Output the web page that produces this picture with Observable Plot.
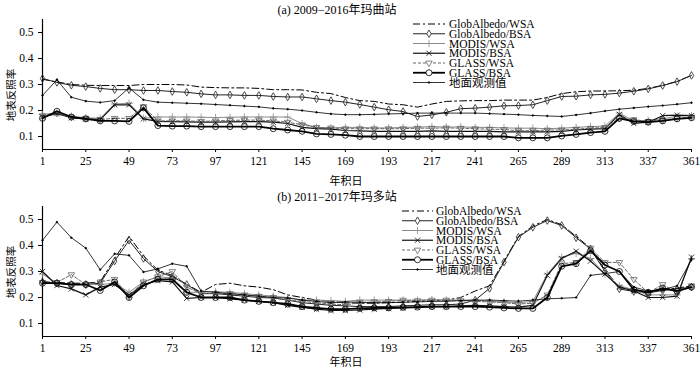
<!DOCTYPE html>
<html><head><meta charset="utf-8">
<script src="https://cdn.jsdelivr.net/npm/d3@7"></script>
<script src="https://cdn.jsdelivr.net/npm/@observablehq/plot@0.6"></script>
<style>
body{margin:0;background:#fff;}
#chart{width:700px;}
svg{display:block;}
svg text{font-family:"Liberation Serif","Times New Roman","Noto Sans CJK SC",serif;}
</style></head><body><div id="chart"></div>
<script>
const days = [1,9,17,25,33,41,49,57,65,73,81,89,97,105,113,121,129,137,145,153,161,169,177,185,193,201,209,217,225,233,241,249,257,265,273,281,289,297,305,313,321,329,337,345,353,361];
const xTicks = [1,25,49,73,97,121,145,169,193,217,241,265,289,313,337,361];
const yTicks = [0.1,0.2,0.3,0.4,0.5];
const seriesNames = ["GlobAlbedo/WSA","GlobAlbedo/BSA","MODIS/WSA","MODIS/BSA","GLASS/WSA","GLASS/BSA","地面观测值"];
const titleA = "(a) 2009−2016年玛曲站";
const titleB = "(b) 2011−2017年玛多站";
const yLabel = "地表反照率";
const xLabel = "年积日";

// Panel (a) 玛曲站
const a_globWSA = [0.320,0.310,0.300,0.297,0.296,0.296,0.296,0.300,0.300,0.300, 0.298,0.290,0.288,0.287,0.287,0.285,0.280,0.280,0.279,0.270, 0.265,0.250,0.238,0.235,0.225,0.222,0.213,0.225,0.235,0.237, 0.238,0.238,0.240,0.240,0.240,0.250,0.265,0.272,0.275,0.275, 0.276,0.278,0.285,0.297,0.312,0.335];
const a_globBSA = [0.323,0.308,0.297,0.292,0.285,0.280,0.280,0.277,0.277,0.273, 0.270,0.264,0.260,0.260,0.258,0.258,0.254,0.252,0.252,0.245, 0.238,0.232,0.223,0.213,0.203,0.196,0.177,0.183,0.193,0.207, 0.209,0.213,0.218,0.219,0.222,0.238,0.254,0.255,0.260,0.262, 0.267,0.274,0.283,0.296,0.311,0.335];
const a_modisWSA = [0.185,0.190,0.178,0.172,0.170,0.225,0.228,0.170,0.175,0.175, 0.175,0.174,0.173,0.174,0.175,0.175,0.175,0.175,0.150,0.135, 0.133,0.135,0.135,0.133,0.133,0.135,0.136,0.138,0.136,0.137, 0.135,0.135,0.133,0.132,0.132,0.130,0.132,0.135,0.138,0.140, 0.190,0.160,0.162,0.168,0.178,0.180];
const a_modisBSA = [0.175,0.188,0.172,0.168,0.165,0.222,0.222,0.168,0.158,0.157, 0.156,0.155,0.155,0.156,0.157,0.157,0.155,0.150,0.135,0.130, 0.128,0.123,0.122,0.120,0.120,0.120,0.120,0.122,0.120,0.120, 0.120,0.120,0.118,0.118,0.118,0.118,0.120,0.125,0.128,0.130, 0.185,0.150,0.155,0.180,0.182,0.180];
const a_glassWSA = [0.180,0.190,0.175,0.170,0.165,0.170,0.170,0.215,0.160,0.160, 0.160,0.158,0.160,0.162,0.163,0.163,0.160,0.155,0.145,0.135, 0.133,0.130,0.130,0.130,0.130,0.130,0.132,0.132,0.133,0.132, 0.130,0.128,0.127,0.122,0.122,0.125,0.125,0.128,0.132,0.135, 0.170,0.165,0.158,0.163,0.170,0.175];
const a_glassBSA = [0.170,0.197,0.175,0.168,0.160,0.160,0.158,0.210,0.142,0.140, 0.140,0.138,0.138,0.138,0.138,0.138,0.130,0.125,0.120,0.110, 0.108,0.105,0.100,0.100,0.100,0.100,0.100,0.100,0.100,0.100, 0.100,0.100,0.100,0.095,0.095,0.095,0.102,0.108,0.115,0.120, 0.170,0.158,0.155,0.160,0.168,0.172];
const a_ground = [0.258,0.318,0.251,0.236,0.231,0.238,0.287,0.241,0.232,0.230, 0.228,0.226,0.223,0.220,0.217,0.214,0.208,0.205,0.200,0.193, 0.187,0.184,0.184,0.185,0.187,0.188,0.190,0.190,0.190,0.190, 0.190,0.188,0.186,0.184,0.181,0.179,0.177,0.183,0.190,0.198, 0.205,0.210,0.215,0.219,0.224,0.230];

// Panel (b) 玛多站
const b_globWSA = [0.260,0.258,0.255,0.255,0.260,0.350,0.435,0.360,0.305,0.285, 0.250,0.220,0.250,0.255,0.245,0.240,0.230,0.210,0.200,0.190, 0.185,0.180,0.178,0.178,0.180,0.182,0.185,0.188,0.190,0.200, 0.225,0.245,0.340,0.435,0.475,0.500,0.480,0.435,0.390,0.305, 0.240,0.228,0.222,0.230,0.236,0.245];
const b_globBSA = [0.260,0.255,0.250,0.250,0.255,0.340,0.420,0.350,0.300,0.280, 0.250,0.215,0.215,0.210,0.205,0.200,0.198,0.190,0.180,0.175, 0.170,0.168,0.165,0.165,0.165,0.168,0.170,0.172,0.172,0.175, 0.190,0.235,0.336,0.432,0.470,0.496,0.477,0.430,0.387,0.300, 0.233,0.223,0.218,0.227,0.233,0.240];
const b_modisWSA = [0.290,0.255,0.250,0.250,0.250,0.255,0.220,0.260,0.280,0.275, 0.220,0.220,0.222,0.220,0.215,0.210,0.205,0.200,0.190,0.190, 0.188,0.185,0.190,0.190,0.190,0.190,0.190,0.192,0.190,0.190, 0.190,0.185,0.183,0.180,0.185,0.290,0.355,0.370,0.350,0.290, 0.245,0.230,0.210,0.210,0.210,0.350];
const b_modisBSA = [0.300,0.246,0.233,0.210,0.240,0.250,0.210,0.250,0.265,0.260, 0.197,0.200,0.200,0.195,0.190,0.185,0.180,0.170,0.162,0.155, 0.150,0.150,0.152,0.155,0.158,0.160,0.162,0.165,0.165,0.168, 0.170,0.168,0.165,0.163,0.170,0.285,0.350,0.378,0.340,0.290, 0.240,0.225,0.200,0.200,0.205,0.355];
const b_glassWSA = [0.258,0.258,0.288,0.250,0.260,0.270,0.205,0.260,0.280,0.300, 0.240,0.215,0.215,0.215,0.210,0.205,0.200,0.190,0.185,0.180, 0.175,0.172,0.180,0.183,0.185,0.190,0.188,0.190,0.190,0.188, 0.185,0.183,0.180,0.175,0.178,0.210,0.330,0.335,0.390,0.335, 0.335,0.270,0.218,0.250,0.218,0.245];
const b_glassBSA = [0.255,0.255,0.250,0.250,0.227,0.260,0.200,0.245,0.270,0.270, 0.220,0.200,0.200,0.200,0.190,0.185,0.180,0.175,0.165,0.160, 0.155,0.155,0.158,0.160,0.160,0.162,0.163,0.165,0.165,0.165, 0.165,0.163,0.160,0.158,0.158,0.200,0.320,0.330,0.380,0.325, 0.300,0.230,0.220,0.235,0.225,0.240];
const b_ground = [0.420,0.490,0.430,0.390,0.307,0.368,0.362,0.298,0.310,0.330, 0.320,0.225,0.220,0.215,0.210,0.205,0.200,0.198,0.190,0.185, 0.180,0.183,0.182,0.180,0.180,0.182,0.183,0.185,0.185,0.188, 0.190,0.190,0.188,0.186,0.190,0.195,0.197,0.200,0.285,0.292, 0.300,0.240,0.225,0.230,0.245,0.345];

const FONT = '"Liberation Serif","Times New Roman","Noto Sans CJK SC",serif';
const styles = [
  {stroke:"#000", sw:1, dash:"7,3,2,3", symbol:null},
  {stroke:"#222", sw:1, dash:null, symbol:"diamond", r:2.3},
  {stroke:"#8a8a8a", sw:1, dash:null, symbol:"plus", r:2.5},
  {stroke:"#111", sw:1.2, dash:null, symbol:"times", r:2.5},
  {stroke:"#666", sw:1, dash:"3,2", symbol:"triangle", rotate:180, r:2.4},
  {stroke:"#000", sw:1.8, dash:null, symbol:"circle", r:3},
  {stroke:"#000", sw:0.8, dash:null, symbol:"circle", r:0.8, fill:"#000"}
];

function buildPanel(seriesArrays, cfg) {
  const marks = [
    Plot.axisX({ticks: xTicks, tickSize: 3, tickPadding: 4, label: null, fontSize: 11.5}),
    Plot.axisY({ticks: yTicks, tickSize: 4, tickPadding: 5, label: null, tickFormat: d => d.toFixed(1), fontSize: 11.5}),
    Plot.ruleY([0.05], {stroke: "#000", strokeWidth: 1.2}),
    Plot.ruleX([1], {stroke: "#000", strokeWidth: 1.2})
  ];
  seriesArrays.forEach((vals, i) => {
    const st = styles[i];
    const data = days.map((d, k) => ({day: d, v: vals[k]}));
    marks.push(Plot.line(data, {x: "day", y: "v", stroke: st.stroke, strokeWidth: st.sw, strokeDasharray: st.dash || undefined}));
    if (st.symbol) {
      marks.push(Plot.dot(data, {x: "day", y: "v", symbol: st.symbol, r: st.r, stroke: st.stroke, strokeWidth: 0.8, fill: st.fill || "none", rotate: st.rotate || 0}));
    }
  });
  const svg = Plot.plot({
    width: 700, height: 187,
    marginTop: 19, marginBottom: 38, marginLeft: 42, marginRight: 9,
    x: {domain: [1, 361]},
    y: {domain: [0.05, 0.55]},
    style: {fontSize: "11.5px", color: "#000", background: "#fff", overflow: "visible"},
    marks
  });
  const s = d3.select(svg);
  s.style("font-family", FONT);
  s.append("text").attr("x", 337).attr("y", 14).attr("text-anchor", "middle")
    .style("font-size", "12px").text(cfg.title);
  s.append("text").attr("transform", `translate(13,${cfg.ylabY}) rotate(-90)`).attr("text-anchor", "middle")
    .attr("dominant-baseline", "middle").style("font-size", "10.5px").text(yLabel);
  s.append("text").attr("x", 346).attr("y", cfg.xlabY).attr("text-anchor", "middle")
    .attr("dominant-baseline", "middle").style("font-size", "11px").text(xLabel);
  // legend
  const g = s.append("g");
  const symMap = {diamond: d3.symbolDiamond, plus: d3.symbolPlus, times: d3.symbolTimes, triangle: d3.symbolTriangle, circle: d3.symbolCircle};
  seriesNames.forEach((name, i) => {
    const st = styles[i];
    const y = 24 + i * 9.75;
    g.append("line").attr("x1", cfg.lx0).attr("x2", cfg.lx1).attr("y1", y).attr("y2", y)
      .attr("stroke", st.stroke).attr("stroke-width", st.sw).attr("stroke-dasharray", st.dash);
    if (st.symbol) {
      const cx = (cfg.lx0 + cfg.lx1) / 2;
      g.append("path").attr("d", d3.symbol(symMap[st.symbol], st.r * st.r * Math.PI)())
        .attr("transform", `translate(${cx},${y}) rotate(${st.rotate || 0})`)
        .attr("fill", st.fill || "#fff").attr("stroke", st.stroke).attr("stroke-width", 0.8);
    }
    g.append("text").attr("x", cfg.tx).attr("y", y).attr("text-anchor", "start").attr("dominant-baseline", "central")
      .style("font-size", "11.5px").text(name);
  });
  return svg;
}

const chart = document.getElementById("chart");
chart.appendChild(buildPanel([a_globWSA, a_globBSA, a_modisWSA, a_modisBSA, a_glassWSA, a_glassBSA, a_ground],
  {title: titleA, ylabY: 95, xlabY: 182, lx0: 413, lx1: 445, tx: 449}));
chart.appendChild(buildPanel([b_globWSA, b_globBSA, b_modisWSA, b_modisBSA, b_glassWSA, b_glassBSA, b_ground],
  {title: titleB, ylabY: 85, xlabY: 176, lx0: 402, lx1: 433, tx: 436}));
</script></body></html>
